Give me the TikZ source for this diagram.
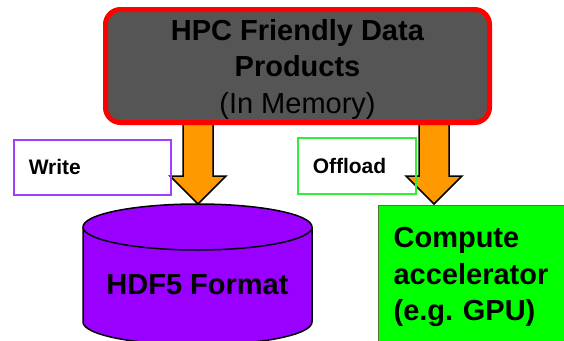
\documentclass[tikz,border=0pt]{standalone}
\usepackage{fontspec}
\setmainfont{Liberation Sans}
\frenchspacing
\usetikzlibrary{calc}
\definecolor{memgray}{HTML}{555555}
\definecolor{arroworange}{HTML}{FF9900}
\definecolor{hdfviolet}{HTML}{9900FF}
\definecolor{writeborder}{HTML}{A040FF}
\definecolor{offborder}{HTML}{33EE33}
\definecolor{gpugreen}{HTML}{00FF00}
\definecolor{gpuborder}{HTML}{557733}
\tikzset{
  bigarrow/.style={draw=black, line width=1.5pt, fill=arroworange, line join=miter},
  labelbox/.style={line width=1.5pt, anchor=north west, align=left,
    inner xsep=15pt, minimum height=56pt, font=\fontsize{21}{25}\selectfont\bfseries},
  writebox/.style={labelbox, draw=writeborder},
  offbox/.style={labelbox, draw=offborder},
  downarrow/.pic={\path[bigarrow] (-15,0) -- (-15,52) -- (-28,52) -- (0,80) -- (28,52) -- (15,52) -- (15,0) -- cycle;}
}
\begin{document}
\begin{tikzpicture}[x=1pt,y=-1pt]
\useasboundingbox (0,0) rectangle (564,340);
\clip (0,0) rectangle (564,340);
% arrows (behind memory box)
\coordinate (a1) at (198,124);
\coordinate (a2) at (434,124);
\pic at (a1) {downarrow};
\pic at (a2) {downarrow};
% memory box
\node[draw=red, line width=5pt, fill=memgray, rounded corners=15pt,
      minimum width=384pt, minimum height=113pt, inner sep=0pt,
      align=center, text depth=0pt,
      font=\fontsize{29}{36.5}\selectfont] (mem) at (297.5,66)
  {\textbf{HPC Friendly Data}\\\textbf{Products}\\(In Memory)};
% label boxes
\node[writebox, text width=127pt, minimum height=55pt] (write) at (13,139) {Write};
\node[offbox, text width=88pt] (offload) at (297,137) {Offload};
% cylinder
\path[draw=black, line width=1.5pt, fill=hdfviolet]
  (83,227) -- (83,322) arc[start angle=180, end angle=0, x radius=114.5, y radius=23]
  -- (312,227) arc[start angle=0, end angle=-180, x radius=114.5, y radius=23] -- cycle;
\draw[line width=1.5pt] (83,227) arc[start angle=180, end angle=0, x radius=114.5, y radius=23];
\node[font=\fontsize{29}{35}\selectfont\bfseries] (hdf) at (197.5,285) {HDF5 Format};
% GPU box
\node[draw=gpuborder, line width=1.2pt, fill=gpugreen, anchor=north west, align=left,
      text width=185pt, inner xsep=15pt, inner ysep=22pt,
      font=\fontsize{29}{36.5}\selectfont\bfseries] (gpu) at (378,205)
  {Compute\\accelerator\\(e.g. GPU)};
\end{tikzpicture}
\end{document}
